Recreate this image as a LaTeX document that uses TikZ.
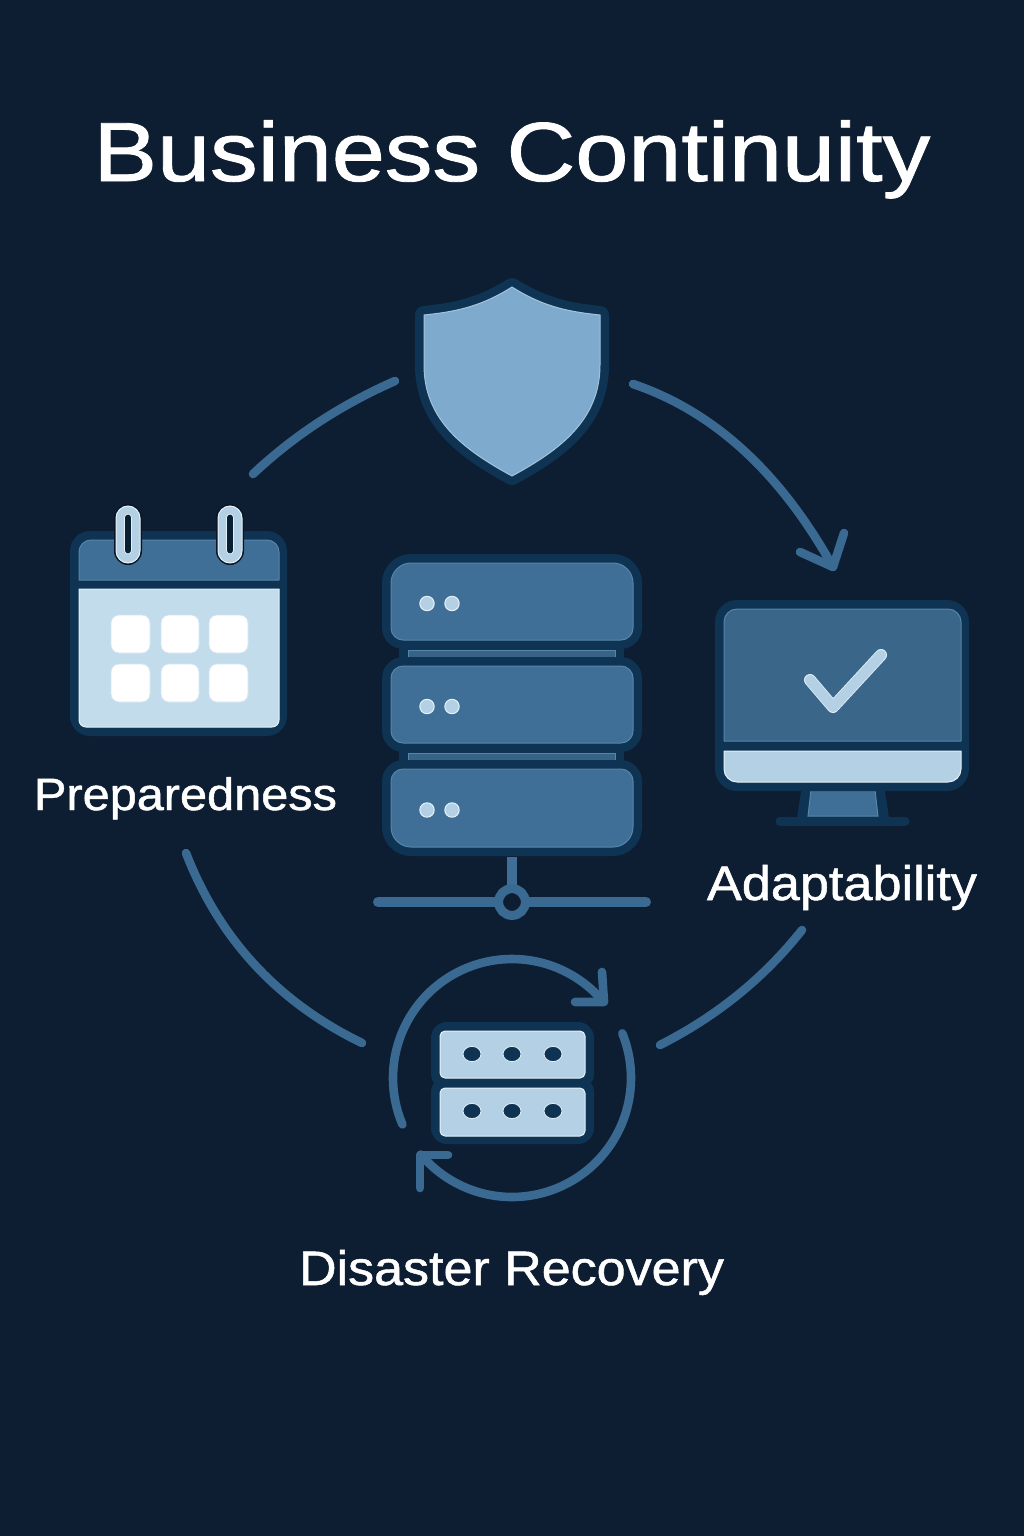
\documentclass[tikz,border=0pt]{standalone}
\usepackage{fontspec}
\usepackage{graphicx}
\setmainfont{Liberation Sans}[FakeBold=1]
\definecolor{bgc}{HTML}{0D1E33}
\definecolor{outl}{HTML}{0F3453}
\definecolor{midb}{HTML}{3F6F96}
\definecolor{arcb}{HTML}{3A6A92}
\definecolor{lightb}{HTML}{B3D0E4}
\definecolor{paleb}{HTML}{C2DCEC}
\definecolor{shieldb}{HTML}{7EAACE}
\definecolor{rimw}{HTML}{E4F1F8}
\definecolor{rimm}{HTML}{5686A9}
\newcommand{\rrp}[8]{({#1+#5},#2) -- ({#3-#6},#2) .. controls ({#3-.45*#6},#2) and (#3,{#2+.45*#6}) .. (#3,{#2+#6}) -- (#3,{#4-#7}) .. controls (#3,{#4-.45*#7}) and ({#3-.45*#7},#4) .. ({#3-#7},#4) -- ({#1+#8},#4) .. controls ({#1+.45*#8},#4) and (#1,{#4-.45*#8}) .. (#1,{#4-#8}) -- (#1,{#2+#5}) .. controls (#1,{#2+.45*#5}) and ({#1+.45*#5},#2) .. ({#1+#5},#2) -- cycle}
\newcommand{\shieldp}{(512,287) .. controls (545,308) and (572,312) .. (600,315) -- (600,365) .. controls (600,420) and (560,450) .. (512,476) .. controls (464,450) and (424,420) .. (424,365) -- (424,315) .. controls (452,312) and (479,308) .. (512,287) -- cycle}
\tikzset{
  x=0.5pt,y=-0.5pt,
  halo/.style={draw=outl,fill=outl,line width=9pt,line join=round},
  midface/.style={fill=midb,draw=rimm,line width=0.5pt},
  lightface/.style={fill=lightb,draw=rimw,line width=0.5pt},
  paleface/.style={fill=paleb,draw=rimw,line width=0.5pt},
  whitecell/.style={fill=white,draw=paleb!70!white,line width=0.4pt},
  arcline/.style={draw=arcb,line width=4.3pt,line cap=round,line join=round},
  thinbar/.style={draw=midb,line width=5pt,line cap=round},
  label/.style={text=white,anchor=base,inner sep=0pt,outer sep=0pt}
}
\begin{document}
\begin{tikzpicture}
\useasboundingbox (0,0) rectangle (1024,1536);
\fill[bgc] (0,0) rectangle (1024,1536);

% title and labels
\node[label] (title) at (512,181) {\resizebox{418.5pt}{!}{\scalebox{1}[0.88]{\fontsize{43}{50}\selectfont Business Continuity}}};
\node[label] (prep) at (185.5,810) {\resizebox{151.5pt}{!}{\scalebox{1}[0.93]{\fontsize{24}{28}\selectfont Preparedness}}};
\node[label] (adapt) at (842,900) {\resizebox{135pt}{!}{\scalebox{1}[0.93]{\fontsize{24}{28}\selectfont Adaptability}}};
\node[label] (recov) at (511.5,1285) {\resizebox{212.5pt}{!}{\scalebox{1}[0.93]{\fontsize{24}{28}\selectfont Disaster Recovery}}};

% outer cycle
\coordinate (a1s) at (395,381); \coordinate (a1e) at (253,474);
\coordinate (a2s) at (633,384); \coordinate (a2e) at (833,567);
\coordinate (a2l) at (844,533); \coordinate (a2r) at (800,552);
\coordinate (a3s) at (186,853); \coordinate (a3e) at (362,1043);
\coordinate (a4s) at (802,930); \coordinate (a4e) at (660,1045);
\draw[arcline] (a1s) .. controls (341,404.7) and (293.7,435.7) .. (a1e);
\draw[arcline] (a2s) .. controls (713.7,411.3) and (780.3,472.3) .. (a2e);
\draw[arcline] (a2l) -- (a2e) -- (a2r);
\draw[arcline] (a3s) .. controls (219.3,939) and (278,1002.3) .. (a3e);
\draw[arcline] (a4s) .. controls (764,978) and (716.7,1016.3) .. (a4e);

% shield
\draw[halo] \shieldp;
\draw[fill=shieldb,draw=rimw!35!shieldb,line width=0.5pt,line join=round] \shieldp;

% calendar
\fill[outl] \rrp{70}{531}{287}{736}{20}{20}{20}{20};
\draw[midface] \rrp{79}{540}{279}{580}{12}{12}{0.1}{0.1};
\draw[paleface] \rrp{79}{589}{279}{727}{0.1}{0.1}{7}{7};
\foreach \cx/\wd in {111/39,161/38,209/39}
  \foreach \cy in {615,664}
    \draw[whitecell] \rrp{\cx}{\cy}{\cx+\wd}{\cy+38}{8}{8}{8}{8};
\foreach \rx in {128,230} {
  \fill[bgc!70!black] \rrp{\rx-14}{504}{\rx+14}{565}{14}{14}{14}{14};
  \draw[fill=lightb,draw=rimw,line width=0.5pt] \rrp{\rx-12}{506}{\rx+12}{563}{12}{12}{12}{12};
  \draw[fill=outl!60!black,draw=rimw,line width=0.4pt] \rrp{\rx-3.5}{514}{\rx+3.5}{554}{3.5}{3.5}{3.5}{3.5};
}

% server stack
\draw[thinbar,line cap=butt] (512,857) -- (512,890);
\fill[outl] (399,644) rectangle (624,663);
\fill[outl] (399,747) rectangle (624,766);
\draw[midface,fill=midb!85!bgc] (408,650) rectangle (615,657);
\draw[midface,fill=midb!85!bgc] (408,753) rectangle (615,760);
\draw[halo] \rrp{391}{563}{633}{640}{20}{20}{12}{12};
\draw[halo] \rrp{391}{666}{633}{743}{12}{12}{12}{12};
\draw[halo] \rrp{391}{769}{633}{847}{12}{12}{20}{20};
\draw[midface] \rrp{391}{563}{633}{640}{20}{20}{12}{12};
\draw[midface] \rrp{391}{666}{633}{743}{12}{12}{12}{12};
\draw[midface] \rrp{391}{769}{633}{847}{12}{12}{20}{20};
\foreach \dy in {603.5,706.5,810}
  \foreach \dx in {427,452}
    \draw[lightface] (\dx,\dy) circle[radius=3.6pt];
\coordinate (busl) at (378,902); \coordinate (busr) at (646,902);
\coordinate (hub) at (512,902);
\draw[thinbar,draw=arcb] (busl) -- (busr);
\draw[draw=arcb,fill=bgc,line width=4.5pt] (hub) circle[radius=6.7pt];

% monitor
\fill[outl] (802,785) -- (884,785) -- (889,818) -- (797,818) -- cycle;
\draw[draw=outl,line width=4.5pt,line cap=round] (780,821) -- (905,821);
\draw[midface] (811,790) -- (875,790) -- (878,816) -- (808,816) -- cycle;
\fill[outl] \rrp{715}{600}{969}{791}{22}{22}{22}{22};
\draw[midface,fill=midb!92!black] \rrp{724}{609}{961}{741}{13}{13}{0.1}{0.1};
\draw[lightface] \rrp{724}{751}{961}{782}{0.1}{0.1}{13}{13};
\coordinate (ck1) at (810,680); \coordinate (ck2) at (833,707); \coordinate (ck3) at (881,655);
\draw[draw=rimw,line width=6pt,line cap=round,line join=round] (ck1) -- (ck2) -- (ck3);
\draw[draw=lightb,line width=5.2pt,line cap=round,line join=round] (ck1) -- (ck2) -- (ck3);

% recovery icon
\draw[arcline] plot[domain=157:320,samples=60,smooth] ({512+119*cos(\x)},{1078+119*sin(\x)});
\draw[arcline] (602,972) -- (604,1002) -- (575,1002);
\draw[arcline] plot[domain=-22:140,samples=60,smooth] ({512+119*cos(\x)},{1078+119*sin(\x)});
\draw[arcline] (420,1188) -- (420,1155) -- (448,1155);
\fill[outl] \rrp{431}{1022}{594}{1087}{16}{16}{12}{12};
\fill[outl] \rrp{431}{1079}{594}{1144}{12}{12}{16}{16};
\draw[lightface] \rrp{440}{1031}{585}{1078}{5}{5}{5}{5};
\draw[lightface] \rrp{440}{1088}{585}{1136}{5}{5}{5}{5};
\foreach \dy in {1054,1111}
  \foreach \dx in {472,512,553}
    \draw[fill=outl,draw=rimw,line width=0.4pt] (\dx,\dy) ellipse[x radius=4.5pt,y radius=3.8pt];
\end{tikzpicture}
\end{document}
